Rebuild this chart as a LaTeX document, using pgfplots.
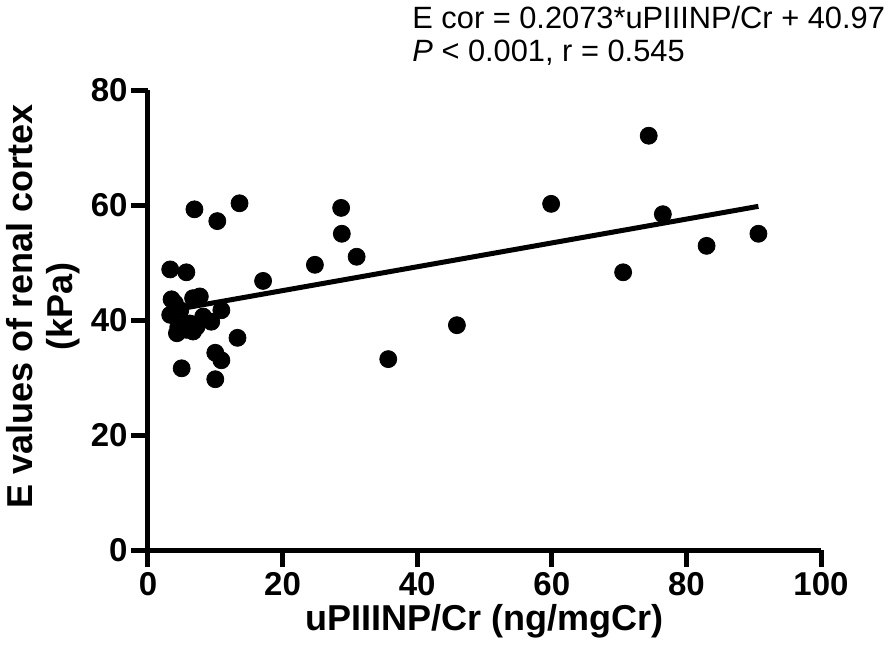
\documentclass[border=0pt]{standalone}
\usepackage{fontspec}
\setmainfont{Liberation Sans}
\usepackage{pgfplots}
\pgfplotsset{compat=1.18}
\begin{document}
\begin{tikzpicture}
\useasboundingbox (-74pt,-58pt) rectangle (373pt,275pt);
\begin{axis}[
  scale only axis,
  width=336.5pt, height=230pt,
  xmin=0, xmax=100, ymin=0, ymax=80,
  xtick={0,20,...,100}, ytick={0,20,...,80},
  axis x line=bottom, axis y line=left,
  axis line style={-, line width=2.5pt, black},
  tick align=outside,
  major tick length=8.5pt,
  tick style={line width=2.5pt, black},
  /pgf/number format/assume math mode=true,
  ticklabel style={font=\fontsize{16.5}{18}\selectfont\bfseries},
  yticklabel style={inner sep=1.5pt},
  xticklabel style={inner sep=2.5pt},
  xlabel={uPIIINP/Cr (ng/mgCr)},
  xlabel style={font=\fontsize{18}{20}\selectfont\bfseries, at={(axis description cs:0.5,-0.108)}, anchor=north, inner sep=2pt},
  ylabel={E values of renal cortex\\(kPa)},
  ylabel style={font=\fontsize{18}{20}\selectfont\bfseries, align=center, at={(axis description cs:-0.0906,0.53)}, anchor=south},
  clip=false,
]
\addplot[only marks, mark=*, mark size=4.25pt, black] coordinates {
(74.4,72.05) (76.5,58.4) (90.7,55.0) (83.0,52.9) (70.6,48.3) (59.9,60.2)
(45.9,39.1) (28.7,59.5) (28.8,55.0) (31.0,51.0) (24.8,49.6) (35.7,33.2)
(6.9,59.25) (13.6,60.3) (10.3,57.2) (3.3,48.8) (5.7,48.3) (17.1,46.8)
(3.5,43.6) (6.7,43.8) (7.7,44.1) (4.0,42.9) (3.3,40.9) (4.8,41.7)
(10.9,41.7) (8.2,40.6) (9.4,39.7) (4.5,38.8) (4.3,37.7) (6.7,38.0)
(5.7,38.3) (6.2,39.4) (7.2,38.8) (13.3,36.9) (10.0,34.3) (10.9,33.0)
(5.0,31.6) (10.0,29.7)
};
\addplot[black, line width=2.5pt] coordinates {(3.3,41.65) (90.7,59.77)};
\end{axis}
\node[anchor=north west, inner sep=0pt, align=left, font=\fontsize{15.4}{16.5}\selectfont] at (132pt,272pt) {E cor = 0.2073*uPIIINP/Cr + 40.97\\\textit{P} < 0.001, r = 0.545};
\end{tikzpicture}
\end{document}
